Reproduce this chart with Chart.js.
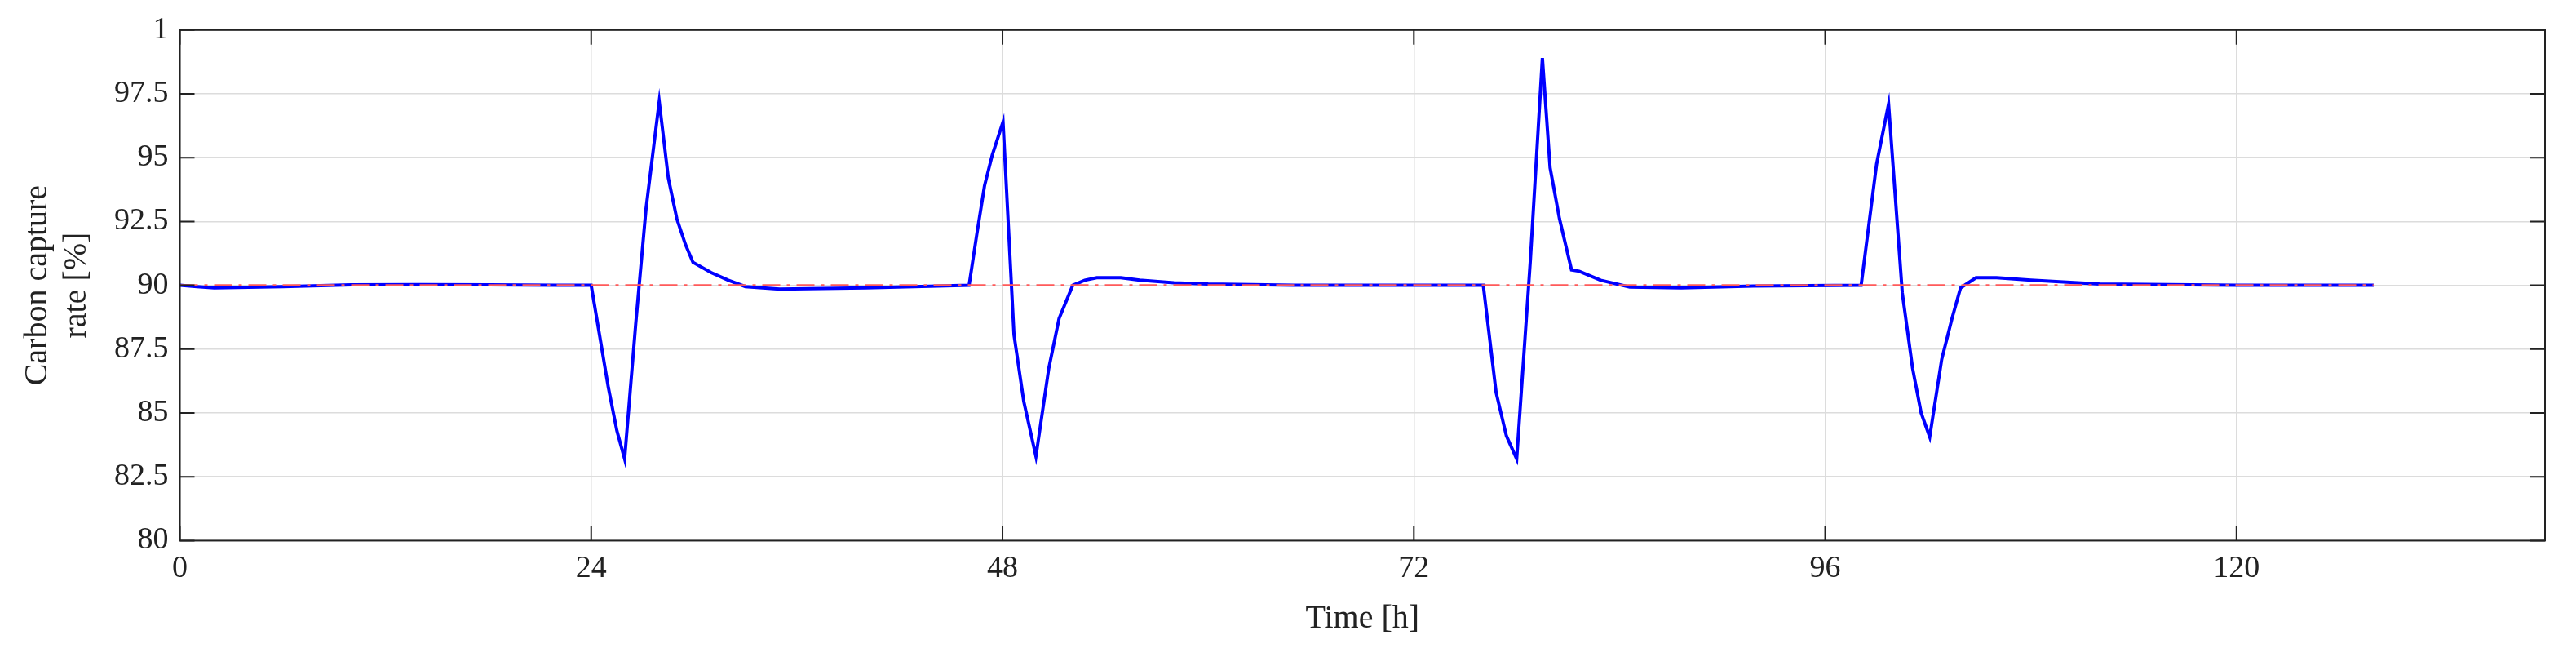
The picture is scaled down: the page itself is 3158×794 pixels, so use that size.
<!DOCTYPE html>
<html>
<head>
<meta charset="utf-8">
<script src="https://cdn.jsdelivr.net/npm/chart.js@4/dist/chart.umd.min.js"></script>
<style>
  html, body { margin: 0; padding: 0; background: #fff; }
  #wrap { width: 3158px; height: 794px; }
</style>
</head>
<body>
<div id="wrap"><canvas id="c"></canvas></div>
<script>
// time [h] and carbon capture rate [%]
const hours = [0, 1, 2, 4, 6, 10, 14, 18, 22, 24, 24.5, 25, 25.5, 25.95, 26.6, 27.2, 27.97, 28.5, 29, 29.5, 29.94, 31, 32, 33, 35, 40, 46.05,
  46.5, 46.95, 47.4, 48.03, 48.67, 49.24, 49.95, 50.7, 51.3, 52.1, 52.8, 53.5, 54.9, 56, 58, 60, 65, 70, 76.05,
  76.8, 77.4, 78.0, 78.8, 79.5, 79.95, 80.5, 81.2, 81.65, 82.9, 84.6, 87.6, 91.8, 98.1,
  99.0, 99.7, 100.5, 101.1, 101.6, 102.1, 102.8, 103.4, 103.9, 104.8, 106, 108, 112, 120, 128]
const rate = [90, 89.95, 89.9, 89.92, 89.95, 90.02, 90.03, 90.02, 90, 90, 88.0, 86.0, 84.3, 83.2, 88.5, 93.0, 97.2, 94.2, 92.6, 91.6, 90.9, 90.5, 90.2, 89.95, 89.85, 89.9, 90,
  92.0, 93.9, 95.1, 96.4, 88.06, 85.45, 83.3, 86.75, 88.7, 90.0, 90.2, 90.3, 90.3, 90.2, 90.1, 90.05, 90, 90, 90,
  85.8, 84.1, 83.2, 91.0, 98.9, 94.6, 92.6, 90.6, 90.55, 90.2, 89.93, 89.9, 89.97, 90,
  94.75, 97.1, 89.7, 86.75, 85.0, 84.06, 87.1, 88.7, 89.9, 90.3, 90.3, 90.2, 90.05, 90, 90]
const setpoint = [90, 90]
const setpointHours = [0, 128]
const yTicks = [80, 82.5, 85, 87.5, 90, 92.5, 95, 97.5, 100]
const xTicks = [0, 24, 48, 72, 96, 120]

const boxPlugin = {
  id: 'box',
  afterDraw(chart) {
    const { ctx, chartArea: a } = chart
    ctx.save()
    ctx.strokeStyle = '#222'
    ctx.lineWidth = 2
    ctx.strokeRect(a.left, a.top, a.right - a.left, a.bottom - a.top)
    // inward ticks like the original
    ctx.beginPath()
    const xs = chart.scales.x, ys = chart.scales.y
    xTicks.forEach(t => {
      const px = xs.getPixelForValue(t)
      ctx.moveTo(px, a.bottom); ctx.lineTo(px, a.bottom - 18)
      ctx.moveTo(px, a.top); ctx.lineTo(px, a.top + 18)
    })
    yTicks.forEach(t => {
      const py = ys.getPixelForValue(t)
      ctx.moveTo(a.left, py); ctx.lineTo(a.left + 18, py)
      ctx.moveTo(a.right, py); ctx.lineTo(a.right - 18, py)
    })
    ctx.stroke()
    ctx.restore()
  }
}

new Chart(document.getElementById('c'), {
  type: 'line',
  data: {
    datasets: [
      {
        label: 'Set point',
        data: setpointHours.map((h, i) => ({ x: h, y: setpoint[i] })),
        borderColor: '#ff5a5a',
        borderWidth: 2.5,
        borderDash: [22, 8, 4, 8],
        pointRadius: 0,
        order: 0
      },
      {
        label: 'Capture rate',
        data: hours.map((h, i) => ({ x: h, y: rate[i] })),
        borderColor: '#0000ff',
        borderWidth: 4,
        pointRadius: 0,
        tension: 0,
        order: 1
      }
    ]
  },
  options: {
    responsive: true,
    maintainAspectRatio: false,
    animation: false,
    layout: { padding: { top: 36, right: 38, bottom: 8, left: 18 } },
    plugins: { legend: { display: false }, tooltip: { enabled: false } },
    scales: {
      x: {
        type: 'linear',
        min: 0,
        max: 138,
        afterBuildTicks: s => { s.ticks = xTicks.map(v => ({ value: v })) },
        ticks: { color: '#222', font: { family: 'Liberation Serif', size: 38 }, padding: 12 },
        grid: { color: '#dcdcdc', lineWidth: 1.5, drawTicks: false },
        border: { display: false },
        title: { display: true, text: 'Time [h]', color: '#222', font: { family: 'Liberation Serif', size: 40 }, padding: { top: 2 } }
      },
      y: {
        min: 80,
        max: 100,
        afterBuildTicks: s => { s.ticks = yTicks.map(v => ({ value: v })) },
        ticks: {
          color: '#222',
          font: { family: 'Liberation Serif', size: 38 },
          padding: 14,
          callback: v => v === 100 ? '1' : String(v)
        },
        grid: { color: '#dcdcdc', lineWidth: 1.5, drawTicks: false },
        border: { display: false },
        title: { display: true, text: ['Carbon capture', 'rate [%]'], color: '#222', font: { family: 'Liberation Serif', size: 40 }, padding: { bottom: 8 } }
      }
    }
  },
  plugins: [boxPlugin]
})
</script>
</body>
</html>
